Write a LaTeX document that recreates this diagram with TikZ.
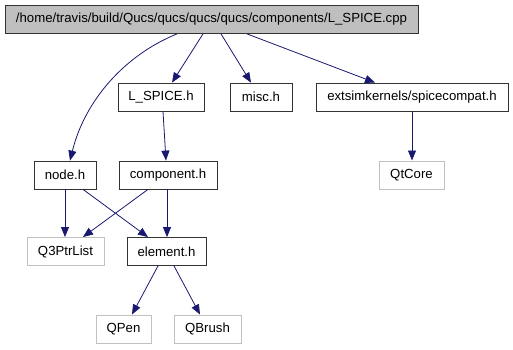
\documentclass[tikz,border=0pt]{standalone}
\usepackage{fontspec}
\setmainfont{Liberation Sans}
\usetikzlibrary{arrows.meta}
\definecolor{edgeblue}{HTML}{191970}
\definecolor{topfill}{HTML}{BFBFBF}
\definecolor{extgray}{HTML}{C0C0C0}
\tikzset{
  base/.style={draw, line width=0.8pt, inner sep=0pt, minimum height=28pt, font=\fontsize{13.2}{15}\selectfont},
  hdr/.style={base, draw=black!80},
  ext/.style={base, draw=extgray, line width=1pt},
  topnode/.style={base, fill=topfill, draw=black!80},
  dep/.style={draw=edgeblue, line width=0.8pt, -{Triangle[length=10pt,width=8pt]}},
}
\begin{document}
\begin{tikzpicture}[x=1pt,y=-1pt]
\useasboundingbox (0,0) rectangle (513,349);
\node[topnode, minimum width=413pt] (cpp) at (211.5,19.5) {/home/travis/build/Qucs/qucs/qucs/qucs/components/L\_SPICE.cpp};
\node[hdr, minimum width=86pt] (lspice) at (161,97) {L\_SPICE.h};
\node[hdr, minimum width=62pt] (misc) at (261,97) {misc.h};
\node[hdr, minimum width=192pt] (spc) at (412,97) {extsimkernels/spicecompat.h};
\node[hdr, minimum width=62pt] (nodeh) at (65,175) {node.h};
\node[hdr, minimum width=98pt] (comp) at (168,175) {component.h};
\node[ext, minimum width=65pt] (qtcore) at (411.5,175) {QtCore};
\node[ext, minimum width=77pt] (q3) at (65.5,251.5) {Q3PtrList};
\node[hdr, minimum width=79pt] (elem) at (166.5,251.5) {element.h};
\node[ext, minimum width=55pt] (qpen) at (123.5,329) {QPen};
\node[ext, minimum width=67pt] (qbrush) at (207.5,329) {QBrush};

\draw[dep] (cpp.south -| 177,0) .. controls (125,55) and (85,100) .. (nodeh.north -| 70,0);
\draw[dep] (cpp.south -| 203,0) -- (lspice.north -| 172,0);
\draw[dep] (cpp.south -| 221,0) -- (misc.north -| 251,0);
\draw[dep] (cpp.south -| 247,0) -- (spc.north -| 375,0);
\draw[dep] (lspice.south -| 163,0) -- (comp.north -| 166,0);
\draw[dep] (spc.south -| 412,0) -- (qtcore.north -| 412,0);
\draw[dep] (nodeh.south -| 65,0) -- (q3.north -| 65,0);
\draw[dep] (nodeh.south -| 83,0) -- (elem.north -| 148,0);
\draw[dep] (comp.south -| 148,0) -- (q3.north -| 83,0);
\draw[dep] (comp.south -| 167,0) -- (elem.north -| 167,0);
\draw[dep] (elem.south -| 158,0) -- (qpen.north -| 132,0);
\draw[dep] (elem.south -| 174,0) -- (qbrush.north -| 200,0);
\end{tikzpicture}
\end{document}
